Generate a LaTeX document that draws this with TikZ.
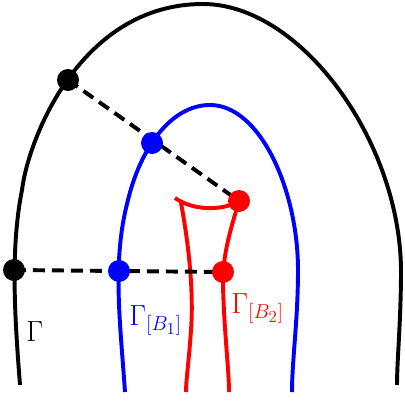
\documentclass[tikz,border=0pt]{standalone}
\usepackage{amsmath,amssymb}
\usepackage{xcolor}
\usetikzlibrary{arrows.meta,calc,positioning}

\begin{document}
\begin{tikzpicture}[x=0.025cm,y=-0.025cm,
    curve/.style={line width=2.8pt,line join=round},
    pt/.style={circle,fill=#1,inner sep=0pt,minimum size=0.55cm},
    dashline/.style={line width=2.8pt,dash pattern=on 8.5pt off 5pt},
    lab/.style={font=\huge,inner sep=0pt,anchor=base west}]
  \useasboundingbox (0,0) rectangle (404,407);
  % the three curves
  \draw[curve,black] (20,385) .. controls (15,320) and (10,250) .. (22,190)
    .. controls (28,140) and (80,4) .. (203,4)
    .. controls (300,4) and (400,140) .. (401,270)
    .. controls (401,320) and (397,360) .. (397,385);
  \draw[curve,blue] (125,392) .. controls (120,320) and (112,260) .. (128,200)
    .. controls (140,150) and (170,105) .. (210,105)
    .. controls (260,105) and (298,190) .. (298,270)
    .. controls (298,320) and (292,360) .. (292,392);
  \draw[curve,red] (181,203) .. controls (188,240) and (194,290) .. (191,330)
    .. controls (189,360) and (186,380) .. (186,392);
  \draw[curve,red] (175,198) .. controls (195,212) and (225,210) .. (239,201);
  \draw[curve,red] (239,201) .. controls (232,225) and (222,255) .. (223,285)
    .. controls (224,330) and (229,370) .. (229,392);
  % points
  \coordinate (g1) at (68,80);
  \coordinate (g2) at (14,270);
  \coordinate (b1) at (152,143);
  \coordinate (b2) at (119,271);
  \coordinate (r1) at (239,201);
  \coordinate (r2) at (223,272);
  \draw[dashline] (g1) -- (r1);
  \draw[dashline] (g2) -- (r2);
  \node[pt=black] (G1) at (g1) {};
  \node[pt=black] (G2) at (g2) {};
  \node[pt=blue] (B1) at (b1) {};
  \node[pt=blue] (B2) at (b2) {};
  \node[pt=red] (R1) at (r1) {};
  \node[pt=red] (R2) at (r2) {};
  % labels
  \node[lab] (lg) at (26,341) {$\Gamma$};
  \node[lab,blue] (lb) at (129,325) {$\Gamma_{[B_1]}$};
  \node[lab,red] (lr) at (231,313) {$\Gamma_{[B_2]}$};
\end{tikzpicture}
\end{document}
